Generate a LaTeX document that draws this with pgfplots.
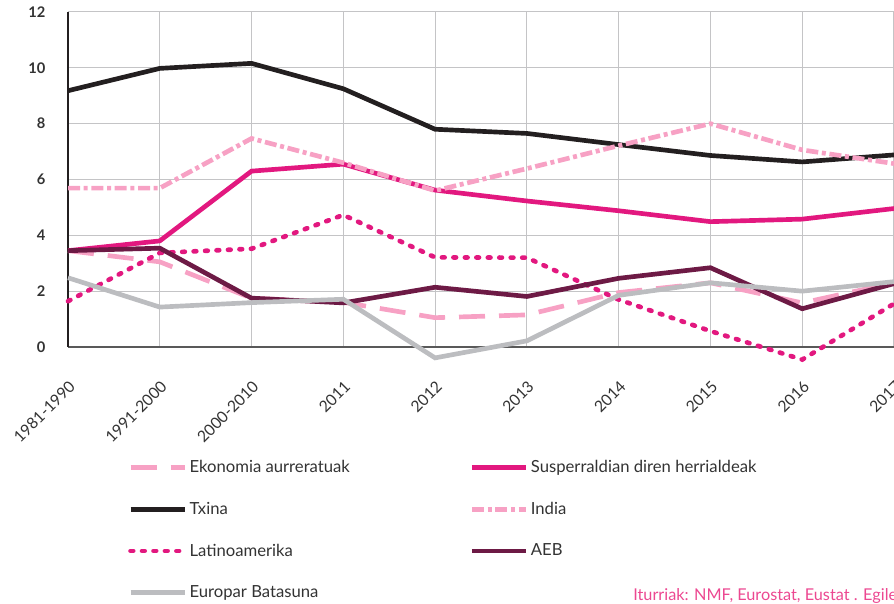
\documentclass[border=0pt]{standalone}
\usepackage{pgfplots}
\pgfplotsset{compat=1.18}
\usepackage{fontspec}
\setmainfont{Lato}
\definecolor{txina}{HTML}{231F20}
\definecolor{susp}{HTML}{E2187F}
\definecolor{lpink}{HTML}{F7A1C4}
\definecolor{aeb}{HTML}{6D1A45}
\definecolor{eb}{HTML}{BCBDC0}
\definecolor{src}{HTML}{EC4891}
\definecolor{txt}{HTML}{333333}
\definecolor{gridc}{HTML}{C4C4C6}
\newcommand\lstrut{\rule[-3.5pt]{0pt}{12.5pt}}
\newcommand\lbox[1]{\makebox[200pt][l]{#1\lstrut}}
\begin{document}
\begin{tikzpicture}
\path[use as bounding box] (0,0) rectangle (670.5pt,453pt);
\begin{axis}[
  at={(51pt,192.75pt)}, anchor=south west,
  scale only axis, width=619.5pt, height=251.25pt,
  xmin=0, xmax=9, ymin=0, ymax=12,
  axis x line=bottom, axis y line=left,
  axis line style={-},
  x axis line style={draw=black!65, line width=1.5pt},
  y axis line style={draw=txina, line width=1.5pt},
  xtick={0,...,9},
  xticklabels={1981-1990,1991-2000,2000-2010,2011,2012,2013,2014,2015,2016,2017},
  ytick={0,2,...,12},
  grid=major,
  major grid style={draw=gridc, line width=0.75pt},
  major tick length=0pt,
  clip=false,
  /pgf/number format/assume math mode=true,
  yticklabel style={font=\bfseries\fontsize{11}{12}\selectfont, text=txt, xshift=-13.5pt},
  xticklabel style={font=\fontsize{11.8}{13}\selectfont, text=txt, yshift=-23pt, rotate=45, anchor=north east, inner sep=1pt},
  legend columns=2,
  legend cell align=left,
  legend image code/.code={\draw[#1] (0pt,0pt) -- (40.5pt,0pt);},
  legend style={at={(0.0726,-0.3295)}, anchor=north west, draw=none, fill=none,
    inner sep=0pt, row sep=16.6pt, font=\fontsize{12.5}{15}\selectfont, nodes={text=txt},
    /tikz/every odd column/.append style={column sep=0pt},
    /tikz/every even column/.append style={column sep=8pt}},
]
\addplot[lpink, line width=3.5pt, dash pattern=on 19.5pt off 10.5pt]
  coordinates {(0,3.45)(1,3.05)(2,1.75)(3,1.6)(4,1.05)(5,1.15)(6,1.95)(7,2.3)(8,1.58)(9,2.3)};
\addlegendentry{\lbox{Ekonomia aurreratuak}}
\addplot[susp, line width=3.5pt]
  coordinates {(0,3.45)(1,3.8)(2,6.3)(3,6.55)(4,5.62)(5,5.23)(6,4.88)(7,4.49)(8,4.58)(9,4.96)};
\addlegendentry{Susperraldian diren herrialdeak\lstrut}
\addplot[txina, line width=3.5pt]
  coordinates {(0,9.18)(1,9.98)(2,10.16)(3,9.25)(4,7.8)(5,7.65)(6,7.25)(7,6.86)(8,6.63)(9,6.88)};
\addlegendentry{\lbox{Txina}}
\addplot[lpink, line width=3.5pt, dash pattern=on 9pt off 2.75pt on 3pt off 2.75pt]
  coordinates {(0,5.69)(1,5.69)(2,7.47)(3,6.6)(4,5.6)(5,6.39)(6,7.21)(7,8.0)(8,7.06)(9,6.57)};
\addlegendentry{India\lstrut}
\addplot[susp, line width=3.5pt, dash pattern=on 2pt off 6.6pt, line cap=round]
  coordinates {(0,1.64)(1,3.37)(2,3.52)(3,4.73)(4,3.21)(5,3.2)(6,1.7)(7,0.57)(8,-0.45)(9,1.55)};
\addlegendentry{\lbox{Latinoamerika}}
\addplot[aeb, line width=3.5pt]
  coordinates {(0,3.45)(1,3.54)(2,1.75)(3,1.58)(4,2.14)(5,1.81)(6,2.46)(7,2.84)(8,1.37)(9,2.27)};
\addlegendentry{AEB\lstrut}
\addplot[eb, line width=3.5pt]
  coordinates {(0,2.48)(1,1.43)(2,1.59)(3,1.71)(4,-0.39)(5,0.22)(6,1.85)(7,2.3)(8,2.0)(9,2.34)};
\addlegendentry{\lbox{Europar Batasuna}}
\end{axis}
\node[anchor=base west, inner sep=0pt, text=src, font=\fontsize{12.2}{15}\selectfont]
  at (474.75pt,2.25pt) {Iturriak: NMF, Eurostat, Eustat . Egilea: Eustat};
\end{tikzpicture}
\end{document}
